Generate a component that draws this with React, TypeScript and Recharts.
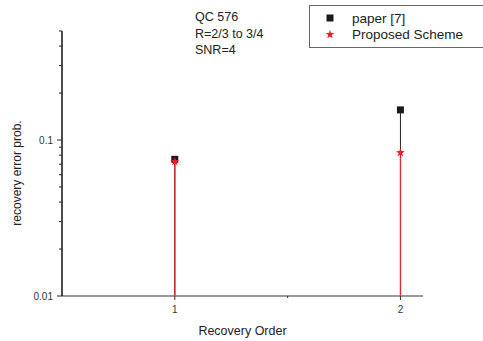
import { ScatterChart, Scatter, XAxis, YAxis, ErrorBar } from "recharts";

const orders = [1, 2];
const paperValues = [0.0752, 0.156];
const proposedValues = [0.0728, 0.083];
const seriesNames = ["paper [7]", "Proposed Scheme"];
const annotationLines = ["QC 576", "R=2/3 to 3/4", "SNR=4"];
const yTicks = [0.01, 0.02, 0.03, 0.04, 0.05, 0.06, 0.07, 0.08, 0.09, 0.1, 0.2, 0.3, 0.4, 0.5];
const yMajor = [0.01, 0.1];
const xTicks = [1, 1.5, 2];
const xMajor = [1, 2];

const BASE = 0.01;
const FONT = "Liberation Sans, Arial, sans-serif";

const toRows = (vals: number[]) =>
  orders.map((o, i) => ({ x: o, y: vals[i], err: [vals[i] - BASE, 0] }));

const paperRows = toRows(paperValues);
const proposedRows = toRows(proposedValues);

const starPoints = (cx: number, cy: number, r: number) => {
  const pts: string[] = [];
  for (let i = 0; i < 10; i++) {
    const rad = i % 2 === 0 ? r : r * 0.42;
    const a = -Math.PI / 2 + (i * Math.PI) / 5;
    pts.push(`${cx + rad * Math.cos(a)},${cy + rad * Math.sin(a)}`);
  }
  return pts.join(" ");
};

const Square = (p: any) => (
  <rect x={p.cx - 3.5} y={p.cy - 3.5} width={7} height={7} fill="#1a1a1a" />
);
const Star = (p: any) => <polygon points={starPoints(p.cx, p.cy, 4.5)} fill="#ee1c25" />;

const YTick = (p: any) => {
  const v = p.payload.value;
  const major = yMajor.includes(v);
  return (
    <g>
      <line x1={p.x - (major ? 5 : 3)} x2={p.x} y1={p.y} y2={p.y} stroke="#222" />
      {major && (
        <text x={p.x - 9} y={p.y} dy={4} textAnchor="end" fontSize={10} fill="#333" fontFamily={FONT}>
          {String(v)}
        </text>
      )}
    </g>
  );
};

const XTick = (p: any) => {
  const v = p.payload.value;
  const major = xMajor.includes(v);
  return (
    <g>
      <line x1={p.x} x2={p.x} y1={p.y} y2={p.y + (major ? 4 : 2)} stroke="#333" />
      {major && (
        <text x={p.x} y={p.y + 17} textAnchor="middle" fontSize={10} fill="#333" fontFamily={FONT}>
          {String(v)}
        </text>
      )}
    </g>
  );
};

export default function App() {
  return (
    <div style={{ position: "absolute", left: 0, top: 0, width: 483, height: 341, background: "#fff", fontFamily: FONT }}>
      <ScatterChart width={483} height={341} margin={{ top: 31, right: 60, bottom: 0, left: 0 }}>
        <XAxis
          type="number"
          dataKey="x"
          domain={[0.5, 2.1]}
          ticks={xTicks}
          interval={0}
          tick={<XTick />}
          tickLine={false}
          tickSize={0}
          tickMargin={0}
          height={45}
          axisLine={{ stroke: "#777", strokeWidth: 1.5 }}
          allowDataOverflow
          label={{ value: "Recovery Order", position: "insideBottom", offset: 6, fontSize: 12.5, fill: "#222", fontFamily: FONT }}
        />
        <YAxis
          type="number"
          dataKey="y"
          scale="log"
          domain={[0.01, 0.5]}
          ticks={yTicks}
          interval={0}
          tick={<YTick />}
          tickLine={false}
          tickSize={0}
          tickMargin={0}
          width={62}
          axisLine={{ stroke: "#111", strokeWidth: 1.5 }}
          allowDataOverflow
          label={{
            content: () => (
              <text
                x={17}
                y={173}
                transform="rotate(-90, 17, 173)"
                textAnchor="middle"
                dominantBaseline="central"
                fontSize={12}
                fill="#222"
                fontFamily={FONT}
              >
                recovery error prob.
              </text>
            ),
          }}
        />
        <Scatter name={seriesNames[0]} data={paperRows} shape={Square} isAnimationActive={false}>
          <ErrorBar dataKey="err" direction="y" width={0} stroke="#222" strokeWidth={1} />
        </Scatter>
        <Scatter name={seriesNames[1]} data={proposedRows} shape={Star} isAnimationActive={false}>
          <ErrorBar dataKey="err" direction="y" width={0} stroke="#ee1c25" strokeWidth={1.2} />
        </Scatter>
      </ScatterChart>

      <div style={{ position: "absolute", left: 195, top: 9, fontSize: 12.5, lineHeight: "16.5px", color: "#222" }}>
        {annotationLines.map((t) => (
          <div key={t}>{t}</div>
        ))}
      </div>

      <div
        style={{
          position: "absolute",
          left: 309,
          top: 5,
          width: 200,
          height: 43,
          border: "1px solid #666",
          boxSizing: "border-box",
          fontSize: 13.5,
          color: "#222",
        }}
      >
        {seriesNames.map((name, i) => (
          <div key={name} style={{ position: "absolute", left: 0, top: 4 + i * 16, height: 16, display: "flex", alignItems: "center" }}>
            <svg width={40} height={16} style={{ display: "block" }}>
              {i === 0 ? (
                <rect x={16.5} y={4.5} width={7} height={7} fill="#1a1a1a" />
              ) : (
                <polygon points={starPoints(20, 8.5, 4.5)} fill="#ee1c25" />
              )}
            </svg>
            <span style={{ marginLeft: 2 }}>{name}</span>
          </div>
        ))}
      </div>
    </div>
  );
}
